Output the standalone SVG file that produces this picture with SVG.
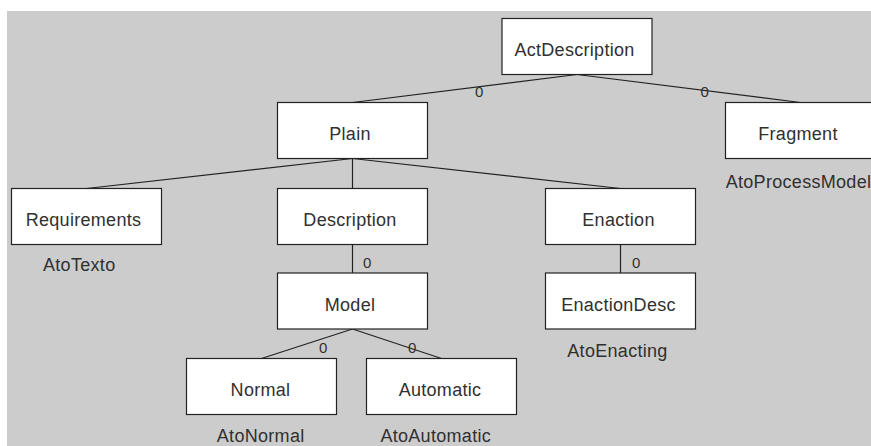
<svg xmlns="http://www.w3.org/2000/svg" width="871" height="446" viewBox="0 0 871 446">
<style>
.box{fill:#fff;stroke:#222;stroke-width:1.2}
.t{font-family:"Liberation Sans",Arial,sans-serif;font-size:18px;fill:#303030;letter-spacing:0.3px}
.c{text-anchor:middle}
.z{font-family:"Liberation Sans",Arial,sans-serif;font-size:15px;fill:#303030}
.edge{stroke:#222;stroke-width:1.2;fill:none}
</style>
<rect x="7" y="11" width="864" height="435" fill="#cccccc"/>
<g id="connectors">
<line class="edge" x1="577" y1="74.5" x2="352.5" y2="102.5"/>
<line class="edge" x1="577" y1="74.5" x2="800.5" y2="102.5"/>
<line class="edge" x1="352.5" y1="158.5" x2="86.5" y2="188.5"/>
<line class="edge" x1="352.5" y1="158.5" x2="352.5" y2="188.5"/>
<line class="edge" x1="352.5" y1="158.5" x2="620.5" y2="188.5"/>
<line class="edge" x1="352.5" y1="244.5" x2="352.5" y2="273"/>
<line class="edge" x1="620.5" y1="244.5" x2="620.5" y2="273"/>
<line class="edge" x1="352.5" y1="329" x2="261.5" y2="358.5"/>
<line class="edge" x1="352.5" y1="329" x2="441.5" y2="358.5"/>
<text class="z" x="475" y="96.5">0</text>
<text class="z" x="700.5" y="96.5">0</text>
<text class="z" x="363" y="268">0</text>
<text class="z" x="632" y="268">0</text>
<text class="z" x="319" y="352.5">0</text>
<text class="z" x="408" y="352.5">0</text>
</g>
<g id="ActDescription"><rect class="box" x="502" y="18.5" width="150" height="56"/><text class="t c" x="574.5" y="56">ActDescription</text></g>
<g id="Plain"><rect class="box" x="277.5" y="102.5" width="150" height="56"/><text class="t c" x="350" y="140">Plain</text></g>
<g id="Fragment"><rect class="box" x="725.5" y="102.5" width="150" height="56"/><text class="t c" x="798" y="140">Fragment</text><text class="t" x="725.7" y="188">AtoProcessModel</text></g>
<g id="Requirements"><rect class="box" x="11.5" y="188.5" width="150" height="56"/><text class="t c" x="83.5" y="226">Requirements</text><text class="t" x="43" y="271">AtoTexto</text></g>
<g id="Description"><rect class="box" x="277.5" y="188.5" width="150" height="56"/><text class="t c" x="350" y="226">Description</text></g>
<g id="Enaction"><rect class="box" x="545.5" y="188.5" width="150" height="56"/><text class="t c" x="618.5" y="226">Enaction</text></g>
<g id="Model"><rect class="box" x="277.5" y="273" width="150" height="56"/><text class="t c" x="350" y="310.5">Model</text></g>
<g id="EnactionDesc"><rect class="box" x="545.5" y="273" width="150" height="56"/><text class="t c" x="618.5" y="310.5">EnactionDesc</text><text class="t" x="567.3" y="357">AtoEnacting</text></g>
<g id="Normal"><rect class="box" x="186.5" y="358.5" width="150" height="56"/><text class="t c" x="260.5" y="395.5">Normal</text><text class="t" x="216.8" y="442">AtoNormal</text></g>
<g id="Automatic"><rect class="box" x="366.5" y="358.5" width="150" height="56"/><text class="t c" x="440" y="395.5">Automatic</text><text class="t" x="380.4" y="442">AtoAutomatic</text></g>
</svg>
